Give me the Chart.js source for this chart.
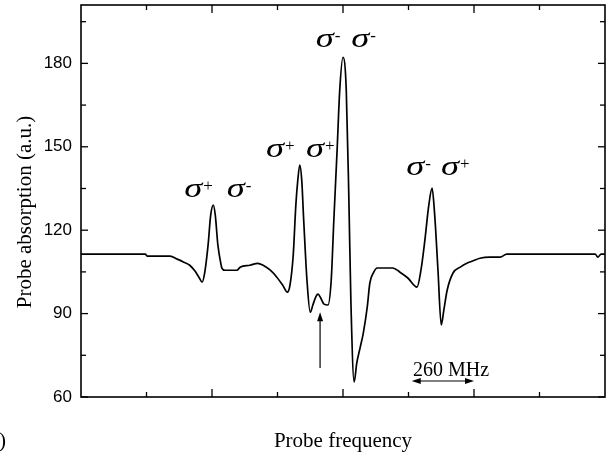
<!DOCTYPE html>
<html><head><meta charset="utf-8">
<script src="https://cdn.jsdelivr.net/npm/chart.js@4"></script>
<style>html,body{margin:0;padding:0;background:#fff}</style>
</head><body>
<canvas id="c" width="611" height="459"></canvas>
<script>
// ---- data ----
const frequency = [0,0.98,1.01,1.36,1.47,1.57,1.66,1.74,1.80,1.85,
  1.89,1.94,1.98,2.02,2.05,2.09,2.14,2.15,2.20,2.24,
  2.38,2.43,2.58,2.70,2.78,2.89,2.99,3.08,3.15,3.19,
  3.24,3.28,3.31,3.34,3.37,3.40,3.45,3.50,3.54,3.59,
  3.62,3.66,3.71,3.77,3.82,3.86,3.91,3.95,4.00,4.05,
  4.09,4.12,4.17,4.21,4.26,4.31,4.37,4.41,4.47,4.52,
  4.76,4.87,4.99,5.13,5.19,5.25,5.31,5.36,5.40,5.45,
  5.50,5.54,5.59,5.68,5.79,5.89,5.98,6.09,6.24,6.40,
  6.50,7.85,7.89,7.94,8.00];
const absorption = [111.4,111.4,110.7,110.7,109.6,108.5,107.4,105.3,103.1,101.3,
  104.9,114.6,125.4,129.0,125.4,114.6,107.4,106.4,105.6,105.6,
  105.6,106.7,107.4,108.1,107.4,105.6,103.1,100.2,97.7,100.2,
  111.0,129.0,138.0,143.4,138.0,123.6,102.0,90.5,93.1,96.3,
  97.0,95.6,93.4,93.1,102.0,123.6,148.8,170.3,182.2,170.3,
  130.8,94.9,65.4,72.2,77.6,83.0,92.3,101.0,104.9,106.4,
  106.4,104.9,102.8,99.5,105.6,116.4,129.0,135.1,125.4,105.6,
  85.9,91.3,98.4,104.6,106.7,108.1,108.9,109.9,110.3,110.3,
  111.4,111.4,110.3,111.4,111.4];
const yMajorTicks = [60, 90, 120, 150, 180];
const yMinorTicks = [75, 105, 135, 165, 195];
const xMajorTicks = [2, 4, 6];
const xMinorTicks = [1, 3, 5, 7];
const xRange = [0, 8];
const yRange = [60, 201];
const yTitle = 'Probe absorption (a.u.)';
const xTitle = 'Probe frequency';
// transition labels: [x, y(baseline), superscript]
const sigmaLabels = [
  [1.56, 131.9, '+'], [2.21, 131.9, '-'],
  [2.81, 146.2, '+'], [3.42, 146.2, '+'],
  [3.57, 185.8, '-'], [4.11, 185.8, '-'],
  [4.95, 139.8, '-'], [5.48, 139.8, '+']
];
const arrowMark = {x: 3.65, from: 70.4, to: 90.5};
const scaleBar = {text: '260 MHz', textX: 5.07, textY: 67.6, y: 65.75, x0: 5.05, x1: 6.0};

const pts = frequency.map((f, i) => ({x: f, y: absorption[i]}));

const deco = {
  id: 'deco',
  afterDraw(chart) {
    const {ctx, chartArea: a, scales: {x, y}} = chart;
    ctx.save();
    ctx.strokeStyle = '#000'; ctx.fillStyle = '#000';
    ctx.lineWidth = 1.6;
    ctx.strokeRect(a.left, a.top, a.right - a.left, a.bottom - a.top);
    ctx.lineWidth = 1.3;
    const seg = (x0, y0, x1, y1) => { ctx.beginPath(); ctx.moveTo(x0, y0); ctx.lineTo(x1, y1); ctx.stroke(); };
    yMajorTicks.forEach(v => { const p = y.getPixelForValue(v); seg(a.left, p, a.left + 7, p); seg(a.right, p, a.right - 7, p); });
    yMinorTicks.forEach(v => { const p = y.getPixelForValue(v); seg(a.left, p, a.left + 5, p); seg(a.right, p, a.right - 5, p); });
    xMajorTicks.forEach(v => { const p = x.getPixelForValue(v); seg(p, a.bottom, p, a.bottom - 8); seg(p, a.top, p, a.top + 8); });
    xMinorTicks.forEach(v => { const p = x.getPixelForValue(v); seg(p, a.bottom, p, a.bottom - 5); seg(p, a.top, p, a.top + 5); });

    // axis titles
    ctx.font = '21px "Liberation Serif"';
    ctx.textAlign = 'center'; ctx.textBaseline = 'middle';
    ctx.fillText(xTitle, 343, 441);
    ctx.save(); ctx.translate(25, 212); ctx.rotate(-Math.PI / 2); ctx.fillText(yTitle, 0, 0); ctx.restore();
    ctx.textAlign = 'left';
    ctx.fillText(')', -1, 441);

    // sigma labels
    ctx.textBaseline = 'alphabetic';
    sigmaLabels.forEach(([vx, vy, s]) => {
      const px = x.getPixelForValue(vx), py = y.getPixelForValue(vy);
      ctx.font = 'italic 27px "Liberation Serif"';
      const w = ctx.measureText('σ').width;
      const sx = 18 / w;
      ctx.save(); ctx.translate(px + 1, py); ctx.scale(sx, 1); ctx.fillText('σ', 0, 0); ctx.restore();
      ctx.font = '17px "Liberation Serif"';
      ctx.fillText(s, px + 20, py - 6);
    });

    // arrow
    const ax = x.getPixelForValue(arrowMark.x);
    const ay0 = y.getPixelForValue(arrowMark.from), ay1 = y.getPixelForValue(arrowMark.to);
    ctx.lineWidth = 1.2;
    seg(ax, ay0, ax, ay1 + 6);
    ctx.beginPath(); ctx.moveTo(ax, ay1); ctx.lineTo(ax - 3, ay1 + 9); ctx.lineTo(ax + 3, ay1 + 9); ctx.closePath(); ctx.fill();

    // scale bar
    ctx.font = '20px "Liberation Serif"';
    ctx.fillText(scaleBar.text, x.getPixelForValue(scaleBar.textX), y.getPixelForValue(scaleBar.textY));
    const bx0 = x.getPixelForValue(scaleBar.x0), bx1 = x.getPixelForValue(scaleBar.x1), by = y.getPixelForValue(scaleBar.y);
    seg(bx0 + 4, by, bx1 - 4, by);
    ctx.beginPath(); ctx.moveTo(bx0, by); ctx.lineTo(bx0 + 9, by - 3); ctx.lineTo(bx0 + 9, by + 3); ctx.closePath(); ctx.fill();
    ctx.beginPath(); ctx.moveTo(bx1, by); ctx.lineTo(bx1 - 9, by - 3); ctx.lineTo(bx1 - 9, by + 3); ctx.closePath(); ctx.fill();
    ctx.restore();
  }
};

new Chart(document.getElementById('c'), {
  type: 'line',
  data: { datasets: [{ data: pts, borderColor: '#000', borderWidth: 1.7, pointRadius: 0, fill: false, cubicInterpolationMode: 'monotone' }] },
  options: {
    responsive: false, animation: false, devicePixelRatio: 1,
    layout: { padding: { top: 5, right: 6, left: 0, bottom: 0 } },
    plugins: { legend: { display: false }, tooltip: { enabled: false } },
    scales: {
      x: {
        type: 'linear', min: xRange[0], max: xRange[1],
        grid: { display: false }, border: { display: false },
        ticks: { display: false },
        afterFit: s => { s.height = 62; s.paddingLeft = 0; s.paddingRight = 0; }
      },
      y: {
        type: 'linear', min: yRange[0], max: yRange[1],
        grid: { display: false, drawTicks: false }, border: { display: false },
        afterBuildTicks: s => { s.ticks = yMajorTicks.map(v => ({value: v})); },
        ticks: { color: '#000', padding: 9, font: { family: '"Liberation Sans"', size: 17 } },
        afterFit: s => { s.width = 81; s.paddingTop = 0; s.paddingBottom = 0; }
      }
    }
  },
  plugins: [deco]
});
</script>
</body></html>
